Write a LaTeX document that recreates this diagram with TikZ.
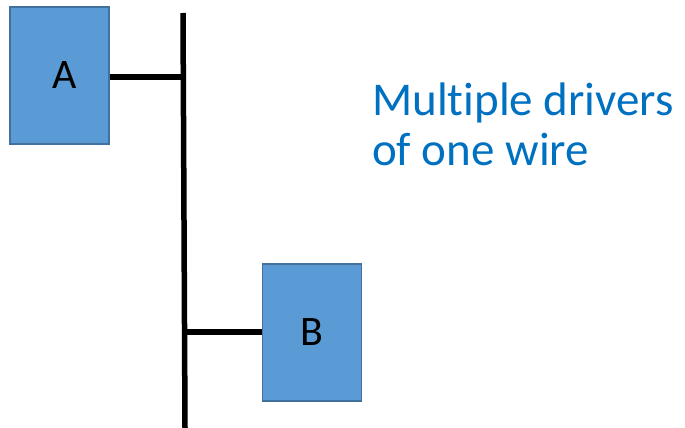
\documentclass[tikz,border=0pt]{standalone}
\usepackage{fontspec}
\setmainfont{Carlito}[Ligatures=NoCommon]
\definecolor{boxfill}{HTML}{5B9BD5}
\definecolor{boxline}{HTML}{41719C}
\definecolor{txtblue}{HTML}{0070C0}
\begin{document}
\begin{tikzpicture}[x=1pt,y=-1pt,
  blk/.style={draw=boxline,fill=boxfill,line width=1.5pt,minimum width=99pt,minimum height=137pt,inner sep=0pt,font=\fontsize{42}{50}\selectfont},
  wire/.style={line width=5.5pt,black}]
\useasboundingbox (0,0) rectangle (685,428);
\node[blk] (A) at (59.5,75.5) {\kern10pt A};
\node[blk] (B) at (312,332.5) {B};
\coordinate (top) at (183,13);
\coordinate (bot) at (185,428);
\coordinate (jA) at (183,77);
\coordinate (jB) at (184.5,332);
\draw[wire] (top) -- (bot);
\draw[wire] (A.east |- jA) -- (jA);
\draw[wire] (jB) -- (B.west |- jB);
\node[anchor=base west,inner sep=0pt,text=txtblue,font=\fontsize{47}{50}\selectfont,align=left] (T) at (372,165) {Multiple drivers\\of one wire};
\end{tikzpicture}
\end{document}
